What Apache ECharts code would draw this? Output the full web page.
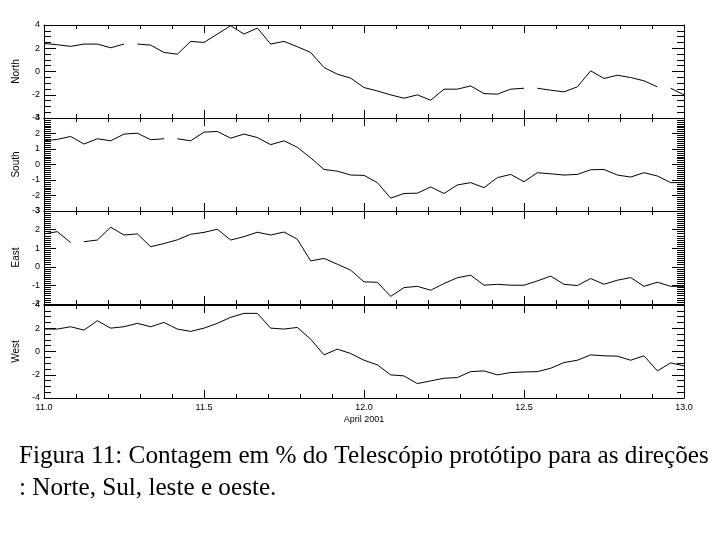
<!DOCTYPE html>
<html><head><meta charset="utf-8">
<script src="https://cdn.jsdelivr.net/npm/echarts@6/dist/echarts.min.js"></script>
<style>html,body{margin:0;padding:0;background:#fff}#c{width:720px;height:540px}</style>
</head><body><div id="c"></div>
<script>
// hours since 11 April 2001 00:00
const hours = [0,1,2,3,4,5,6,7,8,9,10,11,12,13,14,15,16,17,18,19,20,21,22,23,24,25,26,27,28,29,30,31,32,33,34,35,36,37,38,39,40,41,42,43,44,45,46,47,48];
const north = [2.41,2.30,2.16,2.36,2.36,2.04,2.36,2.36,2.27,1.64,1.49,2.59,2.50,3.22,3.94,3.22,3.74,2.36,2.59,2.13,1.64,0.34,-0.23,-0.57,-1.38,-1.67,-2.01,-2.30,-2.01,-2.47,-1.52,-1.52,-1.24,-1.90,-1.95,-1.52,-1.44,-1.44,-1.61,-1.75,-1.32,0.06,-0.60,-0.32,-0.52,-0.80,-1.32,-1.44,-2.01];
const south = [1.53,1.62,1.81,1.32,1.66,1.53,1.96,2.02,1.60,1.66,1.66,1.53,2.09,2.13,1.70,1.96,1.74,1.28,1.53,1.11,0.43,-0.32,-0.43,-0.68,-0.70,-1.17,-2.17,-1.87,-1.85,-1.45,-1.87,-1.32,-1.17,-1.49,-0.85,-0.64,-1.11,-0.53,-0.60,-0.68,-0.64,-0.34,-0.32,-0.68,-0.81,-0.53,-0.74,-1.17,-1.17];
const east = [1.77,1.89,1.30,1.35,1.44,2.13,1.71,1.77,1.08,1.25,1.45,1.75,1.85,2.02,1.44,1.62,1.86,1.71,1.87,1.48,0.32,0.45,0.14,-0.18,-0.81,-0.83,-1.59,-1.12,-1.05,-1.26,-0.90,-0.59,-0.45,-0.99,-0.94,-0.99,-0.99,-0.76,-0.50,-0.94,-1.01,-0.63,-0.94,-0.72,-0.58,-1.05,-0.83,-1.05,-1.05];
const west = [1.93,1.93,2.13,1.84,2.65,2.01,2.13,2.42,2.13,2.50,1.93,1.73,2.01,2.42,2.94,3.28,3.28,2.01,1.93,2.07,1.06,-0.29,0.20,-0.17,-0.75,-1.15,-2.01,-2.10,-2.76,-2.53,-2.30,-2.24,-1.73,-1.67,-2.01,-1.81,-1.76,-1.73,-1.44,-0.95,-0.75,-0.29,-0.37,-0.40,-0.75,-0.37,-1.67,-0.98,-1.24];
// indices after which the record has a missing sample
const northGaps = [6,36,46];
const southGaps = [9];
const eastGaps = [2];
const westGaps = [];
const panelNames = ['North','South','East','West'];
const yMins = [-4,-3,-2,-4];
const yMaxs = [4,3,3,4];
const yIntervals = [2,1,1,2];
const yMinorSplits = [4,8,9,4];
const xTickLabels = ['11.0','11.5','12.0','12.5','13.0'];
const xTitle = 'April 2001';
const caption = 'Figura 11: Contagem em % do Telescópio protótipo para as direções\n: Norte, Sul, leste e oeste.';

const startDay = 11;
function build(vals, gaps){
  const out=[];
  hours.forEach((h,i)=>{
    out.push([startDay + h/24, vals[i]]);
    if (gaps.includes(i)) out.push([startDay + (h+0.5)/24, '-']);
  });
  return out;
}
const seriesVals = [north,south,east,west];
const seriesGaps = [northGaps,southGaps,eastGaps,westGaps];

const tops = [25,118,211,305];
const H = 93;
const labelFont = {fontSize:9, color:'#000', fontFamily:'"Liberation Sans", sans-serif'};
const grid=[], xAxis=[], yAxis=[], series=[];
for (let k=0;k<4;k++){
  grid.push({left:44, right:36, top:tops[k], height:H, containLabel:false, outerBoundsMode:'none', show:false});
  const xBase = {
    gridIndex:k, type:'value', min:11, max:13, interval:0.5,
    axisLine:{show:true, onZero:false, lineStyle:{color:'#000', width:1}},
    axisTick:{show:true, inside:true, length:8, lineStyle:{color:'#000', width:1}},
    minorTick:{show:true, splitNumber:5, length:4, lineStyle:{color:'#000', width:1}},
    splitLine:{show:false}
  };
  xAxis.push(Object.assign({}, xBase, {
    position:'bottom',
    axisLabel: (k===3) ? Object.assign({show:true, margin:5, showMinLabel:true, showMaxLabel:true,
      formatter:(v)=>{ const s=v.toFixed(1); return xTickLabels.includes(s)?s:''; }}, labelFont) : {show:false},
    name: (k===3)? xTitle : '', nameLocation:'middle', nameGap:17,
    nameTextStyle: labelFont
  }));
  xAxis.push(Object.assign({}, xBase, {position:'top', axisLabel:{show:false}}));
  const yBase = {
    gridIndex:k, type:'value', min:yMins[k], max:yMaxs[k], interval:yIntervals[k],
    axisLine:{show:true, onZero:false, lineStyle:{color:'#000', width:1}},
    axisTick:{show:true, inside:true, length:12, lineStyle:{color:'#000', width:1}},
    minorTick:{show:true, splitNumber:yMinorSplits[k], length:7, lineStyle:{color:'#000', width:1}},
    splitLine:{show:false}
  };
  yAxis.push(Object.assign({}, yBase, {
    position:'left',
    axisLabel: Object.assign({show:true, margin:4, showMinLabel:true, showMaxLabel:true}, labelFont),
    name: panelNames[k], nameLocation:'middle', nameRotate:90, nameGap:21,
    nameTextStyle: {fontSize:10, color:'#000', fontFamily:'"Liberation Sans", sans-serif'}
  }));
  yAxis.push(Object.assign({}, yBase, {position:'right', axisLabel:{show:false}}));
  series.push({
    type:'line', xAxisIndex:2*k, yAxisIndex:2*k, data: build(seriesVals[k], seriesGaps[k]),
    showSymbol:false, symbol:'none', connectNulls:false,
    lineStyle:{color:'#000', width:1}, silent:true
  });
}
const chart = echarts.init(document.getElementById('c'), null, {renderer:'canvas'});
chart.setOption({
  animation:false, backgroundColor:'#fff',
  grid, xAxis, yAxis, series,
  graphic:[{type:'text', left:19, top:440, style:{text:caption, font:'25.2px "Liberation Serif", "Times New Roman", serif', fill:'#000', lineHeight:32}}]
});
</script></body></html>
